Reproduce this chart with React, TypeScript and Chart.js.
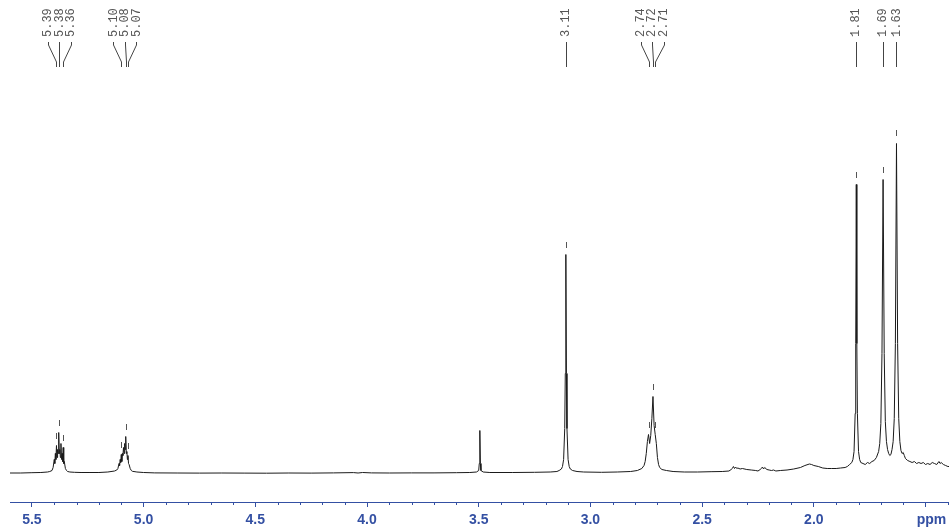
import React, { useEffect, useRef } from 'react';
import { Chart, registerables } from 'chart.js';

Chart.register(...registerables);

// Chemical shift (ppm) of each sampled point of the spectrum
const shifts = [
  5.598, 5.55, 5.5, 5.46, 5.43, 5.42, 5.41, 5.405, 5.4, 5.3975, 5.395, 5.3925, 5.39, 5.3875, 5.385, 5.3825, 5.38, 5.3775, 5.375, 5.3725, 5.37, 5.3675, 5.365, 5.3625, 5.36, 5.3575, 5.355, 5.35, 5.345, 5.34, 5.33, 5.31, 5.28, 5.24, 5.2,
  5.16, 5.13, 5.12, 5.115, 5.11, 5.1075, 5.105, 5.1025, 5.1, 5.0975, 5.095, 5.0925, 5.09, 5.0875, 5.085, 5.0825, 5.08, 5.0775, 5.075, 5.0725, 5.07, 5.0675, 5.065, 5.06, 5.055, 5.05, 5.03, 5.0,
  4.95, 4.85, 4.75, 4.65, 4.55, 4.45, 4.35, 4.25, 4.15, 4.06, 4.04, 4.02, 3.98, 3.9, 3.8, 3.7, 3.6, 3.54,
  3.51, 3.5, 3.4975, 3.495, 3.4925, 3.49, 3.48, 3.45, 3.35, 3.25, 3.18,
  3.15, 3.14, 3.13, 3.125, 3.12, 3.115, 3.1125, 3.11, 3.1075, 3.105, 3.1, 3.095, 3.09, 3.08, 3.06, 3.03, 2.95, 2.88,
  2.82, 2.79, 2.77, 2.76, 2.755, 2.75, 2.745, 2.74, 2.735, 2.73, 2.725, 2.72, 2.715, 2.71, 2.705, 2.7, 2.695, 2.69, 2.68, 2.66, 2.63, 2.58,
  2.52, 2.46, 2.41, 2.38, 2.37, 2.365, 2.36, 2.355, 2.35, 2.345, 2.34, 2.33, 2.32, 2.3, 2.28, 2.26, 2.25, 2.24, 2.235, 2.23, 2.225, 2.22, 2.21, 2.2, 2.19, 2.18, 2.17,
  2.15, 2.12, 2.09, 2.06, 2.04, 2.02, 2.01, 2.0, 1.98, 1.96, 1.94, 1.92, 1.9, 1.88, 1.86, 1.85,
  1.84, 1.83, 1.825, 1.82, 1.815, 1.8125, 1.81, 1.8075, 1.805, 1.8, 1.795, 1.79, 1.78, 1.77, 1.76, 1.75, 1.74, 1.73, 1.72,
  1.71, 1.705, 1.7, 1.695, 1.69, 1.685, 1.68, 1.675, 1.67, 1.665, 1.66, 1.655, 1.65, 1.645, 1.64, 1.635, 1.63, 1.625, 1.62, 1.615, 1.61, 1.605, 1.6, 1.595, 1.59,
  1.58, 1.57, 1.56, 1.55, 1.54, 1.53, 1.52, 1.51, 1.5, 1.49, 1.48, 1.47, 1.46, 1.45, 1.44, 1.435, 1.43, 1.42, 1.41, 1.4, 1.395,
];

// Signal intensity (arbitrary units) at each shift above
const intensities = [
  0.5, 0.5, 0.8, 1, 1.5, 2, 3, 6, 14, 10, 20, 14, 28, 16, 24, 20, 41, 20, 24, 16, 30, 14, 20, 12, 26, 10, 12, 5, 3, 2, 1.5, 1.2, 1, 1, 1,
  1.5, 2.5, 3.5, 5, 10, 8, 14, 11, 19, 12, 20, 18, 26, 20, 30, 24, 37, 20, 22, 14, 18, 10, 9, 5, 3, 2.2, 1.5, 1,
  0.6, 0.5, 0.4, 0.5, 0.4, 0.3, 0.5, 0.4, 0.6, 0.9, 0.5, 1.0, 0.6, 0.5, 0.6, 0.6, 0.8, 1,
  1.5, 3, 10, 43, 10, 3, 1.5, 1, 1, 1.2, 1.5,
  2, 3, 4.5, 7, 14, 45, 100, 219, 100, 45, 14, 7, 4.5, 3, 2, 1.5, 1.2, 1.5,
  2, 3, 5, 8, 12, 20, 32, 39, 30, 38, 55, 77, 48, 39, 30, 16, 9, 6, 4, 3, 2, 1.5,
  1.5, 1.8, 2, 2.5, 4, 5, 7, 5, 6.5, 5, 5.5, 4.5, 5, 4, 3.5, 3, 2.5, 4, 5, 6.5, 4.5, 6, 4, 3.5, 3, 3.5, 2.5,
  3, 3.5, 4.5, 6, 8, 9.5, 9, 8, 7, 5.5, 5, 5, 5, 5.5, 6, 7,
  9, 11, 14, 22, 60, 130, 289, 130, 60, 22, 14, 11, 10, 9, 11, 10, 12, 13, 16,
  22, 30, 50, 120, 294, 120, 52, 32, 24, 20, 18, 19, 24, 32, 55, 130, 330, 130, 55, 32, 23, 20, 21, 18, 15,
  13, 12, 11, 12, 10, 11, 10, 11, 9, 10, 9, 11, 10, 9, 12, 10, 11, 9, 8, 7, 7,
];

// Picked peaks (ppm)
const peakLabels = [5.39, 5.38, 5.36, 5.1, 5.08, 5.07, 3.11, 2.74, 2.72, 2.71, 1.81, 1.69, 1.63];

// Axis ticks
const majorTicks = [5.5, 5.0, 4.5, 4.0, 3.5, 3.0, 2.5, 2.0, 1.5];
const tickLabels = ['5.5', '5.0', '4.5', '4.0', '3.5', '3.0', '2.5', '2.0', ''];
const unitLabel = 'ppm';
const minorTicks = [
  5.4, 5.3, 5.2, 5.1, 4.9, 4.8, 4.7, 4.6, 4.4, 4.3, 4.2, 4.1, 3.9, 3.8, 3.7, 3.6,
  3.4, 3.3, 3.2, 3.1, 2.9, 2.8, 2.7, 2.6, 2.4, 2.3, 2.2, 2.1, 1.9, 1.8, 1.7, 1.6, 1.4,
];

const X_MIN = 1.395;
const X_MAX = 5.598;
const AXIS_BLUE = '#3450a3';
const AXIS_FONT = 'bold 14px "Liberation Sans", Arial, sans-serif';

const annotPlugin = {
  id: 'nmrAnnot',
  afterDraw(chart: any) {
    const { ctx } = chart;
    const x = chart.scales.x;
    const y = chart.scales.y;
    const crisp = (v: number) => Math.round(v) + 0.5;
    ctx.save();

    // minor ticks
    ctx.strokeStyle = AXIS_BLUE;
    ctx.lineWidth = 1;
    ctx.beginPath();
    const base = x.top;
    minorTicks.forEach((v) => {
      const px = crisp(x.getPixelForValue(v));
      ctx.moveTo(px, base);
      ctx.lineTo(px, base + 3);
    });
    ctx.stroke();

    // unit label at the last major tick
    ctx.fillStyle = AXIS_BLUE;
    ctx.font = AXIS_FONT;
    ctx.textAlign = 'center';
    ctx.textBaseline = 'middle';
    ctx.fillText(unitLabel, x.getPixelForValue(majorTicks[majorTicks.length - 1]) + 6, 520);

    // peak pick markers
    ctx.strokeStyle = '#555';
    ctx.beginPath();
    const peakPx = peakLabels.map((p) => x.getPixelForValue(p));
    peakLabels.forEach((p, i) => {
      let best = 0;
      shifts.forEach((s, j) => {
        if (Math.abs(s - p) < Math.abs(shifts[best] - p)) best = j;
      });
      const top = y.getPixelForValue(intensities[best]);
      const px = crisp(peakPx[i]);
      ctx.moveTo(px, Math.round(top) - 13);
      ctx.lineTo(px, Math.round(top) - 7);
    });
    ctx.stroke();

    // spread labels to avoid overlap
    const gap = 11.5;
    let groups = peakPx.map((v, i) => ({ idx: [i], c: v }));
    let merged = true;
    while (merged) {
      merged = false;
      for (let g = 0; g < groups.length - 1; g++) {
        const a = groups[g];
        const b = groups[g + 1];
        const aRight = a.c + ((a.idx.length - 1) * gap) / 2;
        const bLeft = b.c - ((b.idx.length - 1) * gap) / 2;
        if (bLeft - aRight < gap) {
          const idx = a.idx.concat(b.idx);
          const c = idx.reduce((s, k) => s + peakPx[k], 0) / idx.length;
          groups.splice(g, 2, { idx, c });
          merged = true;
          break;
        }
      }
    }
    const labelX: number[] = [];
    groups.forEach((g) => {
      g.idx.forEach((k, n) => {
        labelX[k] = g.c + (n - (g.idx.length - 1) / 2) * gap;
      });
    });

    ctx.strokeStyle = '#444';
    ctx.beginPath();
    peakLabels.forEach((p, i) => {
      const lx = crisp(labelX[i]);
      const px = crisp(peakPx[i]);
      if (Math.abs(lx - px) < 1) {
        ctx.moveTo(px, 42);
        ctx.lineTo(px, 67);
      } else {
        ctx.moveTo(lx, 42);
        ctx.lineTo(lx, 45);
        ctx.lineTo(px, 62);
        ctx.lineTo(px, 67);
      }
    });
    ctx.stroke();

    ctx.fillStyle = '#555';
    ctx.font = '12px "Liberation Mono", "DejaVu Sans Mono", monospace';
    ctx.textAlign = 'left';
    ctx.textBaseline = 'middle';
    peakLabels.forEach((p, i) => {
      ctx.save();
      ctx.translate(labelX[i], 37);
      ctx.rotate(-Math.PI / 2);
      ctx.fillText(p.toFixed(2), 0, 0);
      ctx.restore();
    });
    ctx.restore();
  },
};

export default function App() {
  const ref = useRef<HTMLCanvasElement>(null);
  useEffect(() => {
    const prevMargin = document.body.style.margin;
    document.body.style.margin = '0';
    const canvas = ref.current as HTMLCanvasElement;
    const chart = new Chart(canvas, {
      type: 'line',
      data: {
        datasets: [
          {
            data: shifts.map((s, i) => ({ x: s, y: intensities[i] })),
            borderColor: '#1a1a1a',
            borderWidth: 1,
            pointRadius: 0,
            tension: 0,
            fill: false,
          },
        ],
      },
      options: {
        animation: false,
        responsive: false,
        layout: { padding: { left: 10, right: 0, top: 0, bottom: 0 } },
        plugins: { legend: { display: false }, tooltip: { enabled: false } },
        scales: {
          x: {
            type: 'linear',
            reverse: true,
            min: X_MIN,
            max: X_MAX,
            afterBuildTicks: (s: any) => {
              s.ticks = majorTicks.map((v) => ({ value: v }));
            },
            afterFit: (s: any) => {
              s.height = 29;
            },
            ticks: {
              autoSkip: false,
              maxRotation: 0,
              padding: 5,
              color: AXIS_BLUE,
              font: { family: '"Liberation Sans", Arial, sans-serif', size: 14, weight: 'bold' },
              callback: (v: any, i: number) => tickLabels[i],
            },
            grid: { drawOnChartArea: false, drawTicks: true, tickLength: 5, tickColor: AXIS_BLUE, tickWidth: 1 },
            border: { display: true, color: AXIS_BLUE, width: 1 },
          },
          y: { display: false, min: -28.5, max: 473.5 },
        },
      },
      plugins: [annotPlugin],
    } as any);
    return () => {
      chart.destroy();
      document.body.style.margin = prevMargin;
    };
  }, []);
  return <canvas ref={ref} width={949} height={531} style={{ display: 'block' }} />;
}
